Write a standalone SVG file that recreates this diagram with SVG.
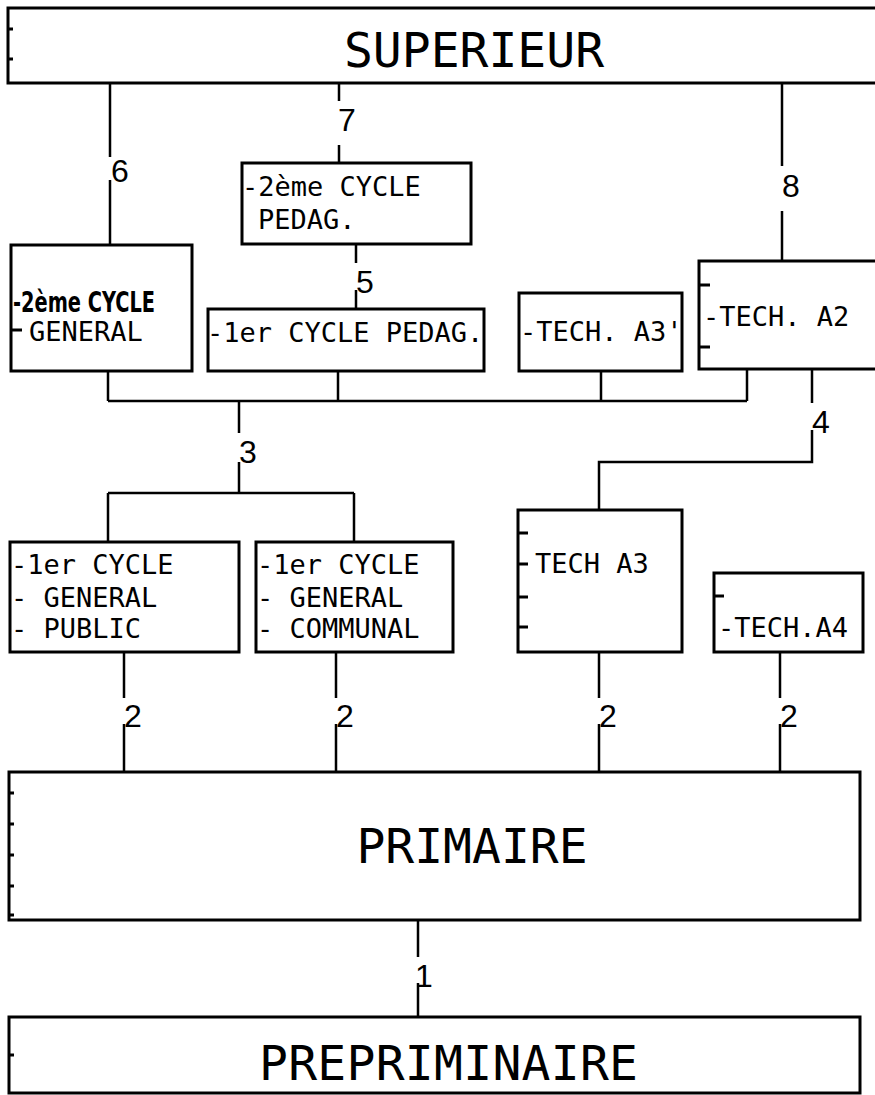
<svg xmlns="http://www.w3.org/2000/svg" width="875" height="1095" viewBox="0 0 875 1095">
<style>
.box{fill:#fff;stroke:#000;stroke-width:3}
.c{stroke:#000;stroke-width:2.5;fill:none}
.tk{stroke:#000;stroke-width:3}
.t{font-family:"DejaVu Sans Mono","Liberation Mono",monospace;font-size:27px;fill:#000}
.big{font-family:"DejaVu Sans Mono","Liberation Mono",monospace;font-size:48px;fill:#000}
.n{font-family:"Liberation Sans",Arial,sans-serif;font-size:32px;fill:#000}
.hw{font-family:"DejaVu Sans Condensed","DejaVu Sans",sans-serif;font-size:28px;font-weight:600;fill:#000}
</style>
<rect width="875" height="1095" fill="#fff"/>
<g id="connectors">
<path class="c" d="M110 83V157M110 180V245"/>
<text class="n" x="111" y="182">6</text>
<path class="c" d="M339 83V101M339 145V163"/>
<text class="n" x="338" y="131">7</text>
<path class="c" d="M356 244V263M356 290V309"/>
<text class="n" x="356" y="293">5</text>
<path class="c" d="M782 83V166M782 211V261"/>
<text class="n" x="782" y="197">8</text>
<path class="c" d="M108 371V401M338 371V401M601 371V401M747 369V401M108 401H747"/>
<path class="c" d="M239 401V433M239 462V493M108 493H354M108 493V542M354 493V542"/>
<text class="n" x="239" y="463">3</text>
<path class="c" d="M812 369V403M812 430V462H599V510"/>
<text class="n" x="812" y="433">4</text>
<path class="c" d="M124 652V698M124 724V772M336 652V698M336 724V772M599 652V698M599 724V772M780 652V698M780 724V772"/>
<text class="n" x="124" y="727">2</text>
<text class="n" x="336" y="727">2</text>
<text class="n" x="599" y="727">2</text>
<text class="n" x="780" y="727">2</text>
<path class="c" d="M418 920V957M418 983V1017"/>
<text class="n" x="415" y="987">1</text>
</g>
<g id="superieur">
<rect class="box" x="8" y="8" width="885" height="75"/>
<path class="tk" d="M8 29H13M8 59H13"/>
<text class="big" x="474" y="67" text-anchor="middle">SUPERIEUR</text>
</g>
<g id="cycle2-pedag">
<rect class="box" x="242" y="163" width="229" height="81"/>
<text class="t" x="242" y="196">-2ème CYCLE</text>
<text class="t" x="258" y="229">PEDAG.</text>
</g>
<g id="cycle2-general">
<rect class="box" x="11" y="245" width="181" height="126"/>
<text class="hw" x="13" y="312" textLength="142" lengthAdjust="spacingAndGlyphs">-2ème CYCLE</text>
<path class="tk" d="M11 330H22"/>
<text class="t" x="29" y="341">GENERAL</text>
</g>
<g id="cycle1-pedag">
<rect class="box" x="208" y="309" width="276" height="62"/>
<text class="t" x="207" y="342">-1er CYCLE PEDAG.</text>
</g>
<g id="tech-a3p">
<rect class="box" x="519" y="293" width="163" height="78"/>
<text class="t" x="520" y="341">-TECH. A3'</text>
</g>
<g id="tech-a2">
<rect class="box" x="699" y="261" width="200" height="108"/>
<path class="tk" d="M699 285H710M699 347H710"/>
<text class="t" x="703" y="326">-TECH. A2</text>
</g>
<g id="cycle1-public">
<rect class="box" x="10" y="542" width="229" height="110"/>
<text class="t" x="11" y="574">-1er CYCLE</text>
<text class="t" x="11" y="607">- GENERAL</text>
<text class="t" x="11" y="638">- PUBLIC</text>
</g>
<g id="cycle1-communal">
<rect class="box" x="256" y="542" width="197" height="110"/>
<text class="t" x="257" y="574">-1er CYCLE</text>
<text class="t" x="257" y="607">- GENERAL</text>
<text class="t" x="257" y="638">- COMMUNAL</text>
</g>
<g id="tech-a3">
<rect class="box" x="518" y="510" width="164" height="142"/>
<path class="tk" d="M518 533H528M518 564H528M518 597H528M518 627H528"/>
<text class="t" x="535" y="573">TECH A3</text>
</g>
<g id="tech-a4">
<rect class="box" x="714" y="573" width="149" height="79"/>
<path class="tk" d="M714 596H724"/>
<text class="t" x="718" y="637">-TECH.A4</text>
</g>
<g id="primaire">
<rect class="box" x="9" y="772" width="851" height="148"/>
<path class="tk" d="M9 793H14M9 824H14M9 855H14M9 886H14M9 915H14"/>
<text class="big" x="472" y="863" text-anchor="middle">PRIMAIRE</text>
</g>
<g id="prepriminaire">
<rect class="box" x="9" y="1017" width="851" height="76"/>
<path class="tk" d="M9 1055H14"/>
<text class="big" x="259" y="1080" textLength="379" lengthAdjust="spacing">PREPRIMINAIRE</text>
</g>
</svg>
